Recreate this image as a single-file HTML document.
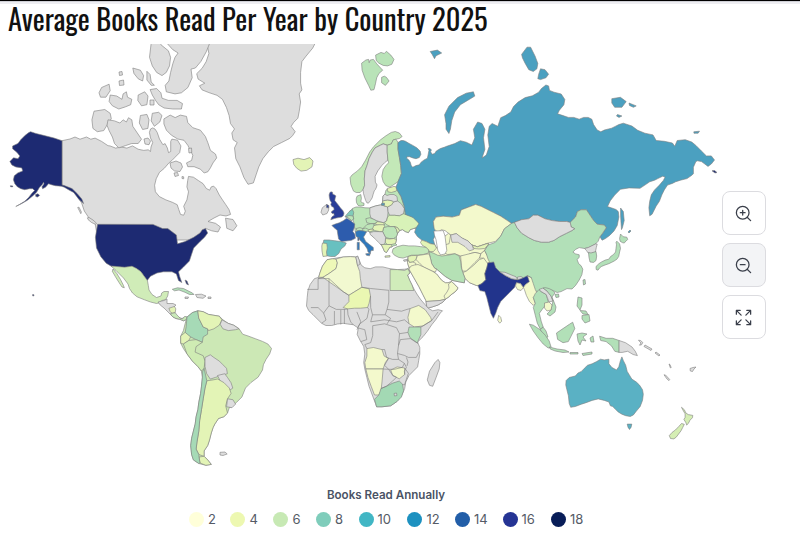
<!DOCTYPE html>
<html><head><meta charset="utf-8">
<style>
html,body{margin:0;padding:0;background:#fff;}
body{width:800px;height:556px;overflow:hidden;position:relative;font-family:"Inter","Liberation Sans",sans-serif;}
.topline{position:absolute;left:0;top:0;width:800px;height:1px;background:#000;}
.topline2{position:absolute;left:0;top:1px;width:800px;height:1px;background:#cfd0d6;}
.topline3{position:absolute;left:0;top:2px;width:800px;height:2px;background:#eeeef2;}
svg.title{position:absolute;left:0;top:0;}
svg.map{position:absolute;left:0;top:0;}
svg.map path{stroke:#7d7d7d;stroke-width:0.6;stroke-linejoin:round;}
.btn{position:absolute;left:722px;width:42px;height:42px;border:1px solid #dcdce0;border-radius:8px;background:#fff;box-sizing:content-box;}
.btn svg{position:absolute;left:11.2px;top:12px;}
.legend-title{position:absolute;left:0;width:772px;top:488px;text-align:center;font-size:11.6px;font-weight:600;color:#4a5365;}
.dot{position:absolute;top:512px;width:15px;height:15px;border-radius:50%;}
.lt{position:absolute;top:511px;font-size:13px;color:#555b66;line-height:17px;}
</style></head>
<body>
<div class="topline"></div><div class="topline2"></div><div class="topline3"></div>
<svg class="map" width="800" height="556" viewBox="0 0 800 556">
<clipPath id="mc"><rect x="0" y="44" width="720" height="430"/></clipPath>
<g clip-path="url(#mc)">
<path d="M209.5 40.0 L316.8 40.0 L312.7 48.1 L306.0 56.2 L301.9 61.6 L300.6 72.4 L300.6 83.2 L301.9 89.9 L299.2 93.9 L300.6 102.0 L299.2 111.5 L297.9 118.2 L293.8 122.3 L291.1 126.3 L295.2 131.7 L292.5 135.7 L289.8 138.4 L281.7 142.5 L273.6 146.5 L268.2 151.9 L262.8 158.7 L258.8 166.8 L256.1 174.8 L253.4 182.9 L248.0 184.3 L243.9 177.5 L239.9 166.8 L235.8 158.7 L234.5 147.9 L237.2 142.5 L233.1 139.8 L231.8 133.0 L234.5 129.0 L230.5 123.6 L229.1 115.5 L226.4 107.4 L222.4 99.3 L217.0 95.3 L208.9 92.6 L202.1 89.9 L199.4 85.8 L204.8 83.2 L198.1 79.1 L196.7 73.7 L202.1 68.3 L206.2 61.6 L208.9 53.5 L207.5 46.7Z" fill="#dddddd"/>
<path d="M293.0 159.6 L298.0 158.2 L304.0 159.6 L309.7 157.6 L313.0 161.0 L312.0 166.8 L306.8 170.3 L301.0 171.1 L296.7 168.2 L293.8 164.5Z" fill="#e3f4b6"/>
<path d="M62.0 140.7 L70.0 139.0 L75.0 137.0 L80.0 139.2 L86.5 137.0 L90.8 139.2 L95.1 138.1 L101.6 141.4 L108.0 145.7 L110.0 145.9 L115.6 148.1 L121.2 147.0 L126.9 148.1 L132.5 145.9 L138.1 149.2 L143.7 150.4 L148.2 149.8 L150.5 151.5 L151.0 147.0 L152.7 142.5 L150.5 138.0 L149.4 132.4 L150.5 129.0 L152.7 127.9 L155.0 129.0 L157.2 132.4 L159.5 139.1 L162.9 144.7 L165.1 143.6 L167.4 148.1 L168.5 152.6 L170.7 151.5 L170.7 141.4 L171.9 139.1 L177.5 140.2 L180.9 145.9 L179.7 152.6 L175.2 157.1 L171.9 160.5 L169.1 162.7 L164.3 168.3 L159.4 172.4 L156.2 178.8 L154.6 185.3 L155.4 191.8 L159.4 196.6 L165.9 199.9 L172.4 202.3 L177.2 204.7 L178.8 209.6 L180.5 214.4 L183.7 215.2 L185.3 211.2 L183.7 206.3 L186.9 199.9 L188.5 191.8 L186.9 186.9 L187.7 180.5 L188.5 176.4 L193.4 177.2 L198.3 180.5 L203.1 183.7 L206.3 188.5 L209.6 190.2 L211.2 186.9 L213.6 186.1 L216.0 188.5 L219.3 195.0 L222.5 199.9 L225.8 204.7 L229.0 209.6 L230.6 214.4 L226.0 216.0 L220.0 215.0 L214.0 218.0 L208.0 221.5 L215.5 223.3 L220.5 227.0 L218.0 232.0 L211.7 230.8 L205.4 228.3 L203.0 232.0 L200.0 240.0 L98.0 240.0 L95.0 223.0 L89.7 219.0 L84.3 211.0 L81.6 202.9 L76.2 194.8 L70.8 189.4 L66.0 187.0 L62.0 184.7Z" fill="#dddddd"/>
<path d="M163.9 118.9 L170.2 115.1 L175.2 117.6 L180.3 115.1 L186.5 116.4 L187.8 122.6 L192.8 127.7 L200.4 130.2 L205.4 136.5 L207.9 142.8 L210.4 150.3 L215.5 154.1 L216.7 157.9 L213.0 162.9 L210.4 167.9 L207.9 171.7 L204.2 173.0 L200.4 169.2 L194.1 166.7 L187.8 166.7 L186.5 162.9 L191.6 160.4 L192.8 155.3 L190.3 150.3 L187.8 145.3 L184.0 140.3 L177.7 139.0 L171.4 135.2 L166.4 130.2 L163.9 123.9Z" fill="#dddddd"/>
<path d="M170.0 163.0 L176.0 161.0 L181.0 163.0 L182.5 167.0 L180.0 171.5 L174.5 171.0 L171.0 168.0Z" fill="#dddddd"/>
<path d="M174.0 173.0 L177.5 172.5 L178.5 175.5 L175.0 176.5Z" fill="#dddddd"/>
<path d="M182.0 176.5 L183.7 176.8 L183.7 178.8 L182.0 178.5Z" fill="#dddddd"/>
<path d="M144.0 139.0 L148.0 138.0 L150.5 141.0 L149.0 144.7 L145.0 144.0Z" fill="#dddddd"/>
<path d="M188.5 148.5 L191.5 148.0 L191.8 152.5 L189.0 153.0Z" fill="#dddddd"/>
<path d="M77.7 207.5 L79.0 207.2 L81.4 212.0 L80.8 213.7 L79.5 211.0Z" fill="#dddddd"/>
<path d="M87.4 217.8 L89.0 217.5 L93.0 220.0 L96.5 223.2 L95.5 224.3 L91.5 222.5 L88.0 219.5Z" fill="#dddddd"/>
<path d="M225.5 218.2 L233.0 219.5 L236.9 225.8 L233.0 230.8 L226.8 228.3Z" fill="#dddddd"/>
<path d="M151.0 44.5 L152.0 40.0 L160.0 40.0 L160.9 44.7 L168.4 50.8 L170.6 57.3 L169.5 65.9 L166.3 72.4 L162.0 75.6 L156.6 72.4 L152.3 65.9 L149.5 57.3Z" fill="#dddddd"/>
<path d="M164.0 40.0 L211.0 40.0 L206.2 51.9 L200.8 61.6 L195.4 68.0 L191.0 69.1 L192.2 77.7 L187.9 87.5 L181.4 92.8 L175.0 93.9 L166.3 91.8 L165.2 85.3 L168.9 81.0 L170.6 72.4 L172.8 63.7 L175.0 57.3 L178.1 53.0 L172.8 49.7Z" fill="#dddddd"/>
<path d="M150.1 89.6 L156.6 88.5 L160.9 92.8 L162.0 98.2 L168.4 100.4 L177.1 100.4 L182.5 103.6 L181.4 109.0 L172.8 109.0 L164.1 108.0 L158.7 104.7 L155.5 100.4 L152.3 95.0Z" fill="#dddddd"/>
<path d="M138.2 95.0 L144.7 91.8 L148.0 96.0 L146.9 104.7 L141.5 105.8 L137.8 100.4Z" fill="#dddddd"/>
<path d="M132.8 68.0 L140.4 70.2 L143.6 75.6 L142.6 81.0 L138.2 78.8 L133.9 73.4Z" fill="#dddddd"/>
<path d="M146.9 71.3 L150.1 74.5 L151.2 82.0 L154.4 85.3 L151.2 85.3 L146.9 80.0Z" fill="#dddddd"/>
<path d="M101.6 87.5 L109.1 84.2 L110.2 90.7 L105.9 97.2 L100.5 97.2 L99.0 92.8Z" fill="#dddddd"/>
<path d="M110.2 95.0 L116.7 96.0 L122.0 99.3 L123.1 93.9 L126.4 91.8 L127.5 97.2 L131.8 99.3 L130.7 104.7 L125.3 106.9 L118.8 109.0 L112.4 105.8 L109.1 101.5Z" fill="#dddddd"/>
<path d="M94.0 111.2 L104.8 109.5 L110.2 113.3 L111.3 118.7 L107.0 125.2 L103.7 130.6 L97.3 131.7 L92.9 128.4 L91.9 119.8Z" fill="#dddddd"/>
<path d="M108.0 119.8 L114.5 120.9 L119.9 123.0 L123.1 119.8 L126.4 122.0 L128.5 117.7 L131.8 119.8 L132.8 126.3 L137.2 132.8 L141.5 139.2 L138.2 143.5 L131.8 143.5 L125.3 145.7 L118.8 147.9 L114.5 143.5 L112.4 137.0 L109.1 130.6 L107.0 125.2Z" fill="#dddddd"/>
<path d="M140.4 115.5 L146.9 114.4 L149.0 119.8 L147.9 128.4 L142.6 129.5 L139.3 123.0Z" fill="#dddddd"/>
<path d="M152.3 113.3 L158.7 112.3 L162.0 115.5 L159.8 122.0 L154.4 126.3 L151.2 120.9Z" fill="#dddddd"/>
<path d="M150.0 100.0 L154.0 100.0 L154.0 105.0 L150.0 105.0Z" fill="#dddddd"/>
<path d="M119.0 81.0 L123.5 80.0 L124.0 85.0 L119.5 85.5Z" fill="#dddddd"/>
<path d="M119.0 72.0 L122.0 71.5 L122.5 75.0 L119.5 75.5Z" fill="#dddddd"/>
<path d="M30.6 131.7 L36.0 133.5 L43.2 135.3 L54.0 138.0 L62.0 140.7 L62.0 184.9 L64.3 185.6 L67.5 186.8 L72.0 188.6 L77.3 193.7 L81.8 199.0 L83.6 203.6 L79.0 199.5 L73.7 192.5 L69.0 190.0 L64.3 187.2 L61.3 186.2 L55.4 185.7 L51.4 184.7 L48.5 183.7 L45.5 187.2 L42.5 188.7 L42.0 186.7 L44.0 183.9 L43.5 182.3 L42.5 184.2 L39.6 187.2 L36.6 192.2 L32.6 196.1 L27.7 200.1 L22.7 203.0 L16.8 206.0 L15.8 206.5 L19.8 204.3 L24.7 201.3 L28.7 197.4 L31.7 193.4 L34.6 190.5 L32.6 188.7 L29.7 188.7 L24.7 189.7 L20.8 188.7 L17.3 186.7 L14.8 183.7 L13.4 179.8 L14.3 175.8 L17.8 172.9 L22.7 170.9 L21.8 167.9 L15.8 166.9 L11.9 165.0 L9.9 161.5 L13.5 157.8 L18.0 158.7 L19.8 156.0 L17.0 152.4 L12.6 148.8 L12.6 146.0 L18.0 143.4 L20.7 139.8 L25.2 135.3 L28.8 132.6Z" fill="#1d2a72"/>
<path d="M35.6 194.5 L38.0 193.8 L39.6 195.5 L37.5 197.0 L35.8 196.5Z" fill="#1d2a72"/>
<path d="M10.4 185.7 L12.9 186.0 L12.5 186.9 L10.5 186.7Z" fill="#1d2a72"/>
<path d="M97.6 224.3 L153.0 224.4 L162.5 228.5 L167.8 228.6 L176.4 235.0 L177.5 243.8 L185.0 241.6 L193.7 237.3 L200.0 233.0 L202.3 229.7 L205.5 228.6 L207.7 233.0 L204.5 237.3 L200.0 241.6 L193.7 248.0 L191.5 254.6 L189.4 261.0 L183.0 267.5 L178.5 271.8 L179.6 276.2 L181.8 282.6 L178.5 280.5 L176.4 274.0 L172.0 271.8 L163.4 271.8 L157.0 273.0 L150.5 276.2 L147.2 280.5 L144.0 276.2 L140.8 271.8 L136.4 268.6 L132.0 266.4 L124.6 267.5 L111.6 266.4 L106.2 263.2 L100.8 256.7 L96.5 248.0 L95.4 237.3Z" fill="#1d2a72"/>
<path d="M111.0 266.0 L124.6 267.2 L132.0 266.2 L136.4 268.4 L140.8 271.6 L144.0 276.0 L147.2 280.3 L147.5 281.0 L148.3 285.5 L149.0 290.0 L152.0 294.5 L156.5 297.5 L161.0 296.0 L161.7 293.0 L164.0 291.5 L168.5 291.5 L167.7 296.0 L165.5 299.8 L161.7 300.5 L159.5 302.8 L156.5 303.5 L150.5 302.0 L144.5 299.8 L137.0 296.8 L132.5 293.0 L129.5 288.5 L128.0 284.0 L123.5 278.0 L119.0 273.5 L116.0 270.5Z" fill="#d0ecb8"/>
<path d="M113.0 269.0 L116.8 273.5 L120.5 279.5 L123.5 285.5 L124.3 287.8 L122.0 287.0 L119.0 282.5 L115.3 276.5 L112.3 271.3Z" fill="#d0ecb8"/>
<path d="M158.0 302.0 L164.0 300.5 L167.0 299.0 L167.0 303.5 L173.0 303.5 L176.0 305.0 L173.0 308.0 L171.5 312.5 L173.0 315.5 L177.5 317.0 L182.0 318.5 L185.0 317.0 L186.5 319.3 L183.5 320.8 L179.8 319.3 L176.0 318.5 L173.0 317.0 L170.0 314.0 L167.0 311.0 L164.0 308.0 L160.2 305.0Z" fill="#dddddd"/>
<path d="M168.9 308.3 L174.5 306.4 L175.8 308.9 L175.2 312.7 L172.0 313.3 L170.1 311.4Z" fill="#e3f4b6"/>
<path d="M170.7 313.3 L172.0 313.3 L175.2 312.7 L177.0 315.0 L180.2 318.2 L182.7 318.8 L184.6 316.5 L186.5 316.5 L187.5 318.5 L186.5 319.5 L183.5 320.8 L179.8 319.3 L176.0 318.5 L173.0 317.0 L171.0 315.0Z" fill="#c9e9b8"/>
<path d="M172.3 289.3 L177.5 287.8 L183.5 288.5 L188.0 290.8 L192.5 293.0 L194.0 294.5 L189.5 294.5 L185.0 292.3 L179.0 290.0 L174.5 290.8Z" fill="#b2e0b8"/>
<path d="M195.5 294.5 L201.5 294.2 L206.0 296.0 L203.0 298.3 L197.0 297.5Z" fill="#dddddd"/>
<path d="M185.0 297.0 L188.5 297.0 L188.0 298.5 L185.0 298.5Z" fill="#dddddd"/>
<path d="M208.0 297.0 L211.0 297.0 L211.0 298.5 L208.0 298.5Z" fill="#dddddd"/>
<path d="M185.0 280.0 L187.0 281.0 L188.5 285.0 L186.5 284.0Z" fill="#1d2a72"/>
<path d="M32.6 294.6 L34.0 294.8 L33.8 296.0 L32.6 295.8Z" fill="#1d2a72"/>
<path d="M187.0 317.1 L192.4 312.6 L197.8 310.8 L203.2 311.7 L208.5 314.4 L213.9 315.3 L219.3 316.2 L222.9 319.8 L228.3 323.4 L233.7 325.2 L239.1 328.8 L242.7 334.2 L248.1 336.0 L255.3 338.7 L262.5 341.4 L267.9 344.0 L271.5 348.5 L269.7 353.9 L266.1 359.3 L263.4 364.7 L262.5 370.0 L258.1 377.2 L250.9 382.6 L245.5 388.0 L241.9 397.0 L236.5 402.4 L232.9 405.9 L229.3 407.7 L227.5 413.1 L223.9 416.7 L218.5 418.5 L214.9 423.9 L213.1 427.5 L211.3 432.9 L209.5 440.1 L207.7 445.5 L204.1 450.9 L204.1 456.3 L207.7 459.9 L211.3 464.4 L205.9 465.3 L198.8 463.5 L193.4 459.9 L191.6 454.5 L190.7 445.5 L191.6 438.3 L193.4 431.1 L195.2 423.9 L196.1 416.7 L197.9 409.5 L198.8 402.4 L200.6 393.4 L201.5 386.2 L202.4 377.2 L201.4 371.0 L197.8 366.5 L192.4 361.1 L187.0 353.9 L183.4 348.5 L180.7 343.2 L180.7 336.0 L183.4 330.6 L185.2 323.4Z" fill="#cce8b5"/>
<path d="M187.0 317.1 L192.4 312.6 L197.8 310.8 L198.7 318.0 L203.2 327.0 L207.6 328.8 L207.6 334.2 L203.2 336.9 L202.3 342.3 L196.0 339.6 L190.6 336.9 L187.0 335.1 L185.2 332.4 L186.1 327.0Z" fill="#a6dab6"/>
<path d="M197.8 310.8 L203.2 311.7 L208.5 314.4 L213.9 315.3 L219.3 316.2 L222.0 319.8 L219.3 325.2 L213.9 328.8 L208.5 330.6 L207.6 328.8 L203.2 327.0 L198.7 318.0Z" fill="#e3f4b6"/>
<path d="M222.0 319.8 L228.3 323.4 L233.7 325.2 L239.1 328.8 L235.5 329.7 L228.3 330.6 L222.9 328.8 L220.2 324.3Z" fill="#dddddd"/>
<path d="M180.7 336.0 L185.2 332.4 L190.6 336.9 L188.8 340.5 L183.4 344.0 L180.7 343.2Z" fill="#e3f4b6"/>
<path d="M183.4 344.0 L188.8 340.5 L196.0 339.6 L202.3 342.3 L196.0 346.7 L195.1 352.1 L203.2 355.7 L205.0 361.1 L204.1 368.3 L201.4 371.0 L197.8 366.5 L192.4 361.1 L187.0 353.9Z" fill="#cfecb3"/>
<path d="M205.0 357.5 L210.3 354.8 L213.9 357.5 L219.3 361.1 L222.9 364.7 L226.5 368.3 L227.4 373.7 L221.1 375.5 L215.7 377.3 L210.3 379.1 L206.7 373.7 L205.0 366.5Z" fill="#dddddd"/>
<path d="M217.5 375.5 L224.7 373.7 L227.4 377.3 L231.0 382.7 L232.8 388.1 L230.1 389.9 L226.5 388.1 L221.1 382.7Z" fill="#dddddd"/>
<path d="M206.8 380.8 L213.1 379.9 L217.6 379.0 L223.9 382.6 L229.3 388.0 L231.1 393.4 L227.5 398.8 L225.7 405.9 L227.5 413.1 L223.9 416.7 L218.5 418.5 L214.9 423.9 L213.1 427.5 L211.3 432.9 L209.5 440.1 L207.7 445.5 L204.1 450.9 L204.1 456.3 L198.8 454.5 L196.1 449.1 L197.0 441.9 L198.8 431.1 L199.7 420.3 L201.5 409.5 L203.2 398.8 L205.0 388.0Z" fill="#e3f4b6"/>
<path d="M199.0 457.0 L204.1 456.3 L207.7 459.9 L211.3 464.4 L205.9 465.3 L200.0 463.0Z" fill="#e3f4b6"/>
<path d="M202.4 372.0 L204.1 368.3 L206.8 380.8 L205.0 388.0 L203.2 398.8 L201.5 409.5 L199.7 420.3 L198.8 431.1 L197.0 441.9 L196.1 449.1 L198.8 454.5 L199.0 457.0 L200.0 463.0 L198.8 463.5 L193.4 459.9 L191.6 454.5 L190.7 445.5 L191.6 438.3 L193.4 431.1 L195.2 423.9 L196.1 416.7 L197.9 409.5 L198.8 402.4 L200.6 393.4 L201.5 386.2 L202.4 377.2Z" fill="#a6dab6"/>
<path d="M227.5 398.8 L232.9 399.7 L235.6 404.1 L232.0 407.7 L226.6 406.8Z" fill="#dddddd"/>
<path d="M220.0 452.3 L225.0 452.0 L227.2 454.0 L223.0 455.5 L220.0 455.0Z" fill="#dddddd"/>
<path d="M352.3 208.5 L356.0 207.0 L360.5 207.0 L365.0 207.8 L369.8 207.9 L375.7 205.9 L380.7 204.9 L382.6 203.9 L382.6 200.9 L383.0 196.0 L385.0 194.0 L386.0 190.0 L390.0 188.0 L395.0 188.0 L396.5 189.0 L401.0 196.5 L404.0 205.5 L405.5 214.5 L413.0 217.5 L419.0 223.5 L417.5 228.0 L413.3 228.6 L410.3 229.6 L408.4 232.6 L405.4 231.6 L402.4 229.6 L399.5 230.6 L397.5 233.6 L396.5 236.5 L396.5 239.5 L395.5 243.5 L397.0 245.0 L393.0 246.0 L392.0 247.0 L390.0 247.0 L388.0 250.0 L386.5 252.5 L384.5 251.5 L383.0 248.0 L381.5 245.0 L380.0 243.0 L377.5 240.0 L375.5 238.0 L372.7 236.5 L369.8 232.6 L368.0 231.0 L366.5 231.8 L363.5 231.0 L359.0 230.3 L355.3 231.8 L354.5 226.5 L353.7 222.0 L352.3 217.5 L353.0 213.0 L349.3 211.5 L352.3 209.3Z" fill="#bde5b8"/>
<path d="M365.8 218.7 L369.8 217.7 L373.7 219.2 L376.7 220.7 L377.7 222.2 L374.7 223.7 L370.8 223.7 L366.8 222.7Z" fill="#bde5b8"/>
<path d="M366.8 224.7 L370.8 223.7 L374.7 223.7 L373.7 224.7 L374.7 226.6 L372.7 229.1 L368.8 229.6 L365.8 228.1 L362.9 228.6Z" fill="#bde5b8"/>
<path d="M355.9 228.6 L359.9 227.6 L362.9 228.6 L362.9 229.1 L361.9 231.1 L357.9 231.6Z" fill="#bde5b8"/>
<path d="M368.8 229.6 L372.7 229.1 L373.5 230.5 L370.0 231.8 L368.0 231.0Z" fill="#e3f4b6"/>
<path d="M369.8 207.9 L375.7 205.9 L380.7 204.9 L387.6 206.9 L388.1 211.8 L387.6 216.8 L386.6 220.7 L383.6 222.7 L379.7 221.7 L376.7 220.7 L373.7 219.2 L370.8 217.7 L369.8 213.8Z" fill="#dddddd"/>
<path d="M387.6 206.9 L391.5 204.9 L393.5 201.9 L397.5 200.9 L401.4 203.9 L404.4 208.8 L403.4 213.8 L399.5 215.8 L394.5 215.3 L389.6 215.3 L388.1 211.8Z" fill="#dddddd"/>
<path d="M382.6 200.9 L387.6 199.9 L392.5 200.9 L393.5 201.9 L391.5 204.9 L387.6 206.9 L384.1 205.9 L382.6 203.9Z" fill="#e3f4b6"/>
<path d="M383.0 196.0 L385.0 194.0 L387.0 195.5 L390.0 194.5 L394.0 194.5 L397.0 196.5 L397.5 200.9 L393.5 201.9 L392.5 200.9 L387.6 199.9 L382.6 200.9Z" fill="#dddddd"/>
<path d="M387.2 188.4 L394.0 186.4 L396.7 187.1 L397.0 190.0 L396.0 191.1 L391.3 192.5 L387.9 191.8Z" fill="#e3f4b6"/>
<path d="M381.5 203.2 L384.5 203.2 L384.5 205.2 L381.5 205.2Z" fill="#4ba0c0"/>
<path d="M387.6 216.8 L389.6 215.3 L394.5 215.3 L399.5 215.8 L403.4 213.8 L407.4 214.8 L411.3 215.8 L415.3 218.7 L418.2 221.7 L419.2 224.7 L416.3 227.6 L413.3 228.6 L410.3 229.6 L408.4 232.6 L405.4 231.6 L402.4 229.6 L399.5 230.6 L397.5 227.6 L394.5 226.6 L390.6 226.6 L386.6 224.7 L384.6 222.7 L386.6 220.7Z" fill="#d8f2b8"/>
<path d="M383.6 227.6 L387.6 226.6 L394.5 226.6 L396.5 229.6 L397.5 233.6 L396.5 236.5 L393.5 238.5 L389.6 238.5 L385.6 237.5 L384.1 234.6 L382.6 231.6Z" fill="#bde5b8"/>
<path d="M394.5 226.6 L397.5 227.6 L399.5 230.6 L397.5 233.6 L396.5 229.6Z" fill="#e3f4b6"/>
<path d="M385.6 238.5 L389.6 239.0 L393.5 238.5 L396.5 239.5 L395.5 243.5 L391.5 244.5 L387.6 244.5 L385.1 242.5Z" fill="#e3f4b6"/>
<path d="M369.8 232.6 L373.7 231.6 L379.7 231.6 L382.6 231.6 L384.1 234.6 L385.6 237.5 L385.1 242.5 L383.6 244.5 L380.7 244.5 L378.7 242.5 L375.7 239.5 L372.7 236.5 L370.3 234.6Z" fill="#dddddd"/>
<path d="M373.7 225.7 L377.7 224.7 L383.6 223.7 L384.6 226.6 L383.6 227.6 L382.6 231.6 L379.7 231.6 L374.7 230.6 L372.7 228.6Z" fill="#e3f4b6"/>
<path d="M377.7 221.7 L383.6 222.7 L384.6 224.7 L377.7 224.7 L374.7 223.7Z" fill="#e3f4b6"/>
<path d="M380.5 244.5 L385.0 244.5 L391.5 244.5 L392.0 247.0 L390.0 247.0 L388.0 250.0 L386.5 252.5 L384.5 251.5 L383.0 248.0 L381.5 245.0Z" fill="#e3f4b6"/>
<path d="M385.0 256.0 L390.0 255.5 L390.0 257.0 L385.0 257.3Z" fill="#e3f4b6"/>
<path d="M346.7 218.2 L350.7 220.7 L354.8 224.1 L354.1 228.1 L352.8 231.5 L354.8 234.2 L355.4 238.3 L351.4 240.3 L346.0 241.0 L341.3 241.6 L338.6 238.9 L337.9 234.9 L337.2 230.2 L333.9 227.5 L331.9 225.4 L335.2 224.1 L339.3 222.8 L343.3 220.7Z" fill="#2d5cad"/>
<path d="M345.0 216.5 L349.3 211.5 L352.3 209.3 L353.7 212.3 L353.0 216.0 L353.7 219.0 L351.5 220.5 L347.7 217.5Z" fill="#7fcbb9"/>
<path d="M345.5 217.0 L349.0 215.5 L353.0 216.0 L353.7 219.0 L351.5 220.5 L347.7 217.5Z" fill="#bde5b8"/>
<path d="M323.8 240.0 L329.0 240.0 L335.0 240.8 L341.0 241.5 L346.3 243.0 L344.8 246.0 L341.0 249.0 L338.8 253.5 L335.0 256.5 L330.5 256.5 L326.8 255.8 L325.3 252.0 L326.0 246.0 L323.0 244.5Z" fill="#68c0c0"/>
<path d="M322.5 243.0 L326.8 243.5 L327.3 248.0 L326.5 252.0 L327.0 256.0 L323.0 256.5 L322.0 251.0 L321.8 246.0Z" fill="#e3f4b6"/>
<path d="M355.3 231.8 L359.0 230.3 L363.5 231.0 L366.5 231.8 L365.0 234.8 L363.5 237.0 L365.7 241.5 L369.5 244.5 L373.3 247.5 L373.3 250.5 L371.0 250.5 L370.3 253.5 L368.0 252.0 L367.3 249.0 L364.3 244.5 L360.5 240.8 L358.3 237.8 L356.0 236.3Z" fill="#2f78bc"/>
<path d="M365.7 253.8 L370.3 253.2 L369.5 255.8 L366.5 255.3Z" fill="#2f78bc"/>
<path d="M357.2 242.3 L359.3 242.3 L359.3 249.8 L357.2 249.8Z" fill="#2f78bc"/>
<path d="M357.8 237.5 L359.0 237.5 L359.0 240.5 L357.8 240.5Z" fill="#2d5cad"/>
<path d="M329.8 192.8 L330.8 191.8 L332.5 192.2 L332.8 194.2 L334.6 194.9 L335.9 195.9 L335.2 198.0 L334.8 200.4 L336.3 202.4 L338.5 205.2 L340.5 207.9 L342.8 210.5 L344.0 213.0 L343.5 215.5 L341.8 217.0 L338.5 217.6 L336.3 218.0 L334.2 218.6 L332.2 219.3 L330.8 219.8 L331.5 217.5 L332.8 216.1 L334.2 215.5 L333.9 213.4 L332.2 213.4 L331.1 212.0 L332.8 210.7 L334.2 209.3 L333.5 207.2 L331.8 206.5 L330.8 204.5 L331.5 202.4 L330.1 200.4 L329.4 197.6 L329.1 194.9Z" fill="#293d98"/>
<path d="M322.3 207.8 L326.5 204.5 L328.7 205.5 L328.7 210.0 L327.0 213.5 L322.8 215.0 L321.0 212.3Z" fill="#dddddd"/>
<path d="M326.5 204.5 L328.7 205.5 L328.7 208.0 L326.5 207.6Z" fill="#293d98"/>
<path d="M357.0 196.2 L360.8 194.6 L361.4 198.4 L360.8 201.6 L362.4 202.7 L364.0 203.2 L364.0 205.4 L360.8 206.0 L358.1 205.4 L356.5 202.7 L356.2 198.9Z" fill="#bde5b8"/>
<path d="M353.5 191.1 L350.8 184.4 L350.1 177.6 L352.1 174.9 L357.5 170.9 L361.6 166.8 L365.6 160.1 L369.7 152.0 L373.7 146.6 L380.5 139.8 L385.9 135.8 L391.3 132.4 L395.3 131.5 L399.4 133.1 L402.1 136.5 L399.4 138.5 L396.0 139.2 L393.3 139.8 L391.3 143.9 L387.2 145.2 L383.2 143.9 L380.5 145.2 L375.1 147.9 L372.4 152.0 L369.0 158.7 L367.0 165.5 L365.0 170.9 L364.3 179.0 L365.0 184.4 L362.9 189.8 L360.2 192.5 L356.2 192.5Z" fill="#c3e8b8"/>
<path d="M375.1 147.9 L380.5 145.2 L383.2 143.9 L387.2 145.2 L387.2 152.0 L387.9 160.1 L384.5 162.8 L381.8 165.5 L377.8 170.9 L375.1 176.3 L375.4 182.2 L377.0 184.9 L376.5 187.0 L375.4 189.5 L374.3 190.8 L373.2 194.1 L372.2 197.8 L370.5 200.5 L368.4 203.2 L366.8 202.7 L365.7 200.5 L364.6 197.3 L363.5 193.5 L363.0 189.7 L364.6 185.4 L364.3 179.0 L365.0 170.9 L367.0 165.5 L369.0 158.7 L372.4 152.0Z" fill="#dddddd"/>
<path d="M387.2 145.2 L391.3 143.9 L393.3 139.8 L396.0 139.2 L398.0 142.5 L398.0 149.3 L399.4 157.4 L400.7 165.5 L401.4 173.6 L398.0 181.7 L394.0 184.4 L389.9 187.1 L385.9 185.7 L383.2 181.7 L381.8 176.3 L383.2 169.5 L385.9 165.5 L388.6 162.8 L387.9 160.1 L387.2 152.0Z" fill="#c3e8b8"/>
<path d="M361.6 63.2 L365.9 60.0 L368.6 59.4 L369.2 62.7 L370.2 60.0 L373.5 59.4 L376.7 63.8 L382.7 70.2 L378.9 73.5 L376.7 77.8 L375.6 83.2 L374.0 89.7 L370.8 90.2 L368.6 85.4 L364.8 77.8 L362.1 70.2Z" fill="#b9e3b8"/>
<path d="M375.6 55.1 L381.0 52.4 L384.3 53.5 L386.4 51.3 L390.8 55.1 L394.0 59.4 L391.8 64.3 L387.5 65.9 L383.2 65.4 L378.9 63.2 L376.2 60.5Z" fill="#b9e3b8"/>
<path d="M381.6 77.3 L384.3 76.2 L386.4 77.3 L389.1 81.0 L385.4 85.4 L381.6 82.7Z" fill="#b9e3b8"/>
<path d="M398.0 142.5 L401.0 140.5 L403.1 140.5 L405.5 141.3 L408.8 143.3 L412.8 145.4 L416.8 147.8 L420.1 151.0 L420.9 154.3 L419.3 157.5 L416.0 158.7 L412.8 157.9 L409.6 156.7 L407.1 156.7 L406.7 158.3 L408.8 159.9 L410.4 162.4 L411.2 165.6 L412.8 167.2 L416.0 165.6 L419.3 164.8 L420.9 162.4 L424.1 159.9 L427.4 158.3 L428.2 154.3 L429.0 150.2 L428.2 148.6 L429.8 148.6 L431.4 149.8 L430.6 151.8 L432.2 154.3 L434.6 153.5 L436.3 151.0 L440.3 148.6 L445.0 147.0 L446.0 146.5 L454.7 143.6 L460.4 140.7 L466.2 142.2 L471.9 145.0 L474.8 137.8 L473.4 129.2 L477.7 122.0 L482.0 123.5 L484.9 129.2 L483.5 137.8 L484.9 149.4 L482.0 158.0 L486.3 155.1 L489.2 146.5 L487.8 135.0 L489.2 126.3 L492.1 123.5 L497.8 126.3 L500.7 117.7 L505.4 115.6 L510.8 112.0 L513.5 106.6 L518.0 102.1 L525.2 97.6 L532.4 95.8 L538.7 92.2 L541.4 88.6 L545.9 85.0 L548.6 85.9 L549.5 90.4 L554.0 92.2 L561.2 94.0 L564.8 99.4 L563.9 104.8 L559.4 110.2 L557.6 113.8 L563.0 115.6 L568.4 117.4 L573.8 117.4 L579.2 119.2 L583.7 117.4 L588.2 117.4 L591.8 119.2 L593.6 124.6 L597.2 130.0 L600.8 131.8 L604.4 130.0 L611.6 128.2 L615.2 126.4 L618.8 124.6 L623.3 123.2 L631.9 126.0 L637.7 130.3 L644.9 133.2 L653.0 134.9 L656.2 140.5 L664.3 141.3 L672.4 143.0 L674.8 146.2 L677.2 140.5 L685.3 139.7 L691.8 142.1 L695.9 145.4 L701.5 151.1 L706.4 155.9 L711.3 155.9 L714.5 160.0 L711.3 164.0 L708.0 166.4 L704.8 164.0 L701.5 161.6 L697.5 160.8 L695.9 161.6 L693.4 167.2 L693.4 173.7 L691.8 175.3 L687.0 178.6 L680.5 180.2 L675.6 181.8 L672.4 183.4 L667.5 185.1 L664.3 189.9 L661.9 194.8 L659.4 201.3 L656.2 206.1 L652.1 214.2 L649.7 215.8 L648.9 207.7 L649.7 201.3 L651.3 194.8 L654.6 189.9 L659.4 185.1 L663.5 180.2 L665.1 177.0 L662.7 176.2 L657.8 178.6 L654.6 180.2 L649.7 181.8 L644.9 185.1 L640.0 188.3 L629.0 187.9 L620.4 189.3 L614.7 195.1 L610.3 200.8 L607.5 206.6 L611.8 208.0 L616.0 209.5 L618.3 211.6 L618.9 217.0 L617.2 225.6 L614.0 231.0 L609.7 235.4 L605.4 238.6 L602.1 240.2 L599.9 236.8 L602.6 233.2 L606.2 227.8 L604.4 225.1 L597.2 224.2 L593.6 220.6 L590.0 215.2 L586.4 209.8 L581.0 209.8 L577.4 211.6 L575.6 217.0 L570.2 222.4 L566.6 221.5 L559.4 221.5 L552.2 220.6 L545.0 218.8 L537.8 215.2 L533.3 215.2 L528.8 218.8 L521.6 219.7 L514.4 222.4 L511.6 223.4 L506.2 219.8 L500.8 216.2 L493.6 212.6 L486.4 209.0 L481.0 206.3 L475.6 204.5 L468.4 207.2 L461.2 209.9 L459.4 215.3 L452.2 217.1 L443.2 216.2 L436.0 217.1 L433.3 221.6 L434.7 229.3 L436.2 233.6 L433.3 239.4 L434.7 244.4 L430.4 243.7 L426.1 241.6 L421.8 240.1 L417.4 236.5 L414.6 232.2 L416.0 227.9 L419.0 223.5 L413.0 217.5 L405.5 214.5 L404.0 205.5 L401.0 196.5 L396.5 189.0 L396.0 187.0 L398.0 181.7 L401.4 173.6 L400.7 165.5 L399.4 157.4 L398.0 149.3 L398.0 142.5Z" fill="#4ba0c0"/>
<path d="M712.0 170.8 L714.5 170.5 L717.0 172.5 L715.0 173.0Z" fill="#1d2a72"/>
<path d="M446.0 123.5 L444.6 114.8 L448.9 106.2 L457.6 97.6 L466.2 93.2 L473.4 91.8 L474.8 96.1 L467.6 100.4 L460.4 104.7 L454.7 112.0 L451.8 120.6 L450.4 129.2 L448.9 133.5 L446.0 129.2Z" fill="#4ba0c0"/>
<path d="M430.2 51.5 L437.4 50.1 L441.7 53.0 L436.0 55.8 L434.5 58.7 L432.2 54.4Z" fill="#4ba0c0"/>
<path d="M521.6 54.4 L527.0 47.2 L530.6 47.2 L535.1 56.2 L537.8 63.4 L536.9 68.8 L533.3 71.5 L528.8 69.7 L525.2 63.4 L522.5 58.0Z" fill="#4ba0c0"/>
<path d="M540.5 68.8 L545.0 69.7 L548.6 74.2 L545.9 77.8 L540.5 79.6 L537.8 78.7 L538.7 74.2Z" fill="#4ba0c0"/>
<path d="M611.8 98.7 L620.4 97.3 L626.2 101.6 L621.9 107.3 L614.7 107.3 L611.8 103.0Z" fill="#4ba0c0"/>
<path d="M629.0 103.0 L636.2 105.9 L633.4 107.3 L629.5 105.5Z" fill="#4ba0c0"/>
<path d="M617.5 114.5 L621.9 116.0 L619.0 117.4 L616.5 116.0Z" fill="#4ba0c0"/>
<path d="M693.8 131.8 L699.5 131.2 L698.1 133.2 L694.0 133.3Z" fill="#4ba0c0"/>
<path d="M620.6 208.0 L623.3 211.6 L624.2 220.6 L622.4 227.8 L621.5 229.6 L621.0 222.4 L620.6 215.2Z" fill="#4ba0c0"/>
<path d="M628.0 232.0 L630.0 230.0 L631.0 231.0 L629.0 233.0Z" fill="#4ba0c0"/>
<path d="M408.0 256.5 L420.0 252.0 L429.0 250.0 L434.7 244.4 L436.5 248.0 L445.0 236.0 L448.6 233.3 L452.2 236.0 L461.2 237.8 L468.4 241.4 L472.0 245.0 L477.4 246.8 L482.8 245.0 L488.2 243.2 L488.2 245.0 L484.6 250.4 L486.4 254.0 L490.0 259.4 L493.7 261.9 L487.8 262.9 L486.8 267.8 L484.8 273.7 L485.8 279.7 L481.9 283.6 L477.9 285.6 L476.5 285.5 L469.3 282.6 L465.0 278.3 L464.3 282.8 L458.0 281.6 L451.7 280.3 L445.4 276.5 L436.6 269.0 L434.7 268.2 L433.0 271.5 L436.6 274.0 L441.6 280.3 L445.4 282.8 L447.9 282.8 L451.7 281.6 L454.2 284.1 L458.0 287.9 L456.0 291.0 L452.0 294.0 L448.5 297.0 L445.4 299.2 L443.0 302.0 L438.0 305.0 L432.0 307.0 L427.0 308.3 L426.5 305.0 L425.9 300.5 L422.7 294.2 L418.9 286.6 L413.9 277.8 L408.9 269.0 L408.5 266.0 L407.5 262.5 L407.6 259.5Z" fill="#f3f9cc"/>
<path d="M433.3 221.6 L436.0 217.1 L443.2 216.2 L452.2 217.1 L459.4 215.3 L461.2 209.9 L468.4 207.2 L475.6 204.5 L481.0 206.3 L486.4 209.0 L493.6 212.6 L500.8 216.2 L506.2 219.8 L511.6 223.4 L504.4 228.8 L500.8 236.0 L495.4 241.4 L488.2 243.2 L482.8 245.0 L477.4 246.8 L472.0 245.0 L468.4 241.4 L461.2 237.8 L452.2 236.0 L448.6 233.3 L445.0 230.6 L441.4 229.7 L437.8 232.4 L434.2 228.8Z" fill="#f3f9cc"/>
<path d="M443.4 245.2 L449.1 243.7 L450.6 235.1 L456.3 233.6 L461.2 237.8 L468.4 241.4 L472.0 245.0 L477.4 246.8 L482.8 245.0 L488.2 243.2 L488.2 245.0 L484.6 250.4 L480.8 253.8 L475.0 252.4 L469.3 253.8 L466.4 256.7 L460.6 256.0 L454.9 253.8 L447.7 254.5 L443.4 252.4Z" fill="#f3f9cc"/>
<path d="M472.0 245.0 L477.4 246.8 L482.8 245.0 L488.2 243.2 L488.2 245.0 L484.6 248.5 L479.0 249.0 L474.0 248.5Z" fill="#e3f4b6"/>
<path d="M450.6 235.1 L456.3 233.6 L462.1 238.0 L467.8 240.8 L472.2 245.2 L473.6 249.5 L469.3 250.9 L465.0 246.6 L457.8 242.3 L452.0 242.3Z" fill="#dddddd"/>
<path d="M480.8 253.8 L484.6 250.4 L486.4 254.0 L490.0 259.4 L493.7 261.9 L487.8 262.9 L486.0 264.0 L483.7 258.1 L479.4 258.1Z" fill="#f3f9cc"/>
<path d="M460.6 256.0 L469.3 253.8 L475.0 252.4 L480.8 253.8 L479.4 258.1 L475.0 262.4 L470.7 266.8 L466.4 271.1 L462.1 271.1 L461.4 265.3Z" fill="#f3f9cc"/>
<path d="M466.4 271.1 L473.6 265.3 L479.4 259.6 L483.7 258.1 L488.0 263.9 L486.8 267.8 L484.8 273.7 L485.8 279.7 L481.9 283.6 L477.9 285.6 L476.5 285.5 L469.3 282.6 L465.0 278.3 L462.8 272.5Z" fill="#f3f9cc"/>
<path d="M429.0 251.6 L433.3 253.1 L437.6 255.2 L441.9 256.0 L447.7 255.2 L454.9 253.8 L459.2 256.0 L460.6 261.0 L461.4 268.2 L462.8 272.5 L465.0 278.3 L464.3 282.8 L458.0 281.6 L451.7 280.3 L445.4 276.5 L440.0 272.0 L436.6 269.0 L434.7 268.2 L431.8 263.9 L430.4 258.1Z" fill="#b5e1b5"/>
<path d="M433.8 231.0 L443.2 230.6 L445.0 236.0 L445.9 243.2 L446.8 250.4 L445.0 254.0 L440.5 254.9 L437.8 250.4 L436.9 245.0 L436.0 239.6 L434.4 235.1Z" fill="#ffffff"/>
<path d="M393.0 248.8 L397.3 246.6 L403.0 245.2 L408.8 245.9 L414.6 245.9 L420.3 246.6 L426.1 247.3 L429.0 250.2 L428.2 253.1 L423.2 254.5 L417.4 255.2 L411.7 255.2 L407.4 256.7 L403.0 258.1 L398.7 257.4 L394.4 255.2 L392.2 252.4Z" fill="#c5e9bb"/>
<path d="M421.8 240.1 L426.1 241.6 L430.4 243.7 L434.7 244.4 L436.5 248.0 L433.5 251.5 L429.0 251.6 L429.0 250.2 L426.1 247.3 L422.5 245.5 L420.5 242.5Z" fill="#e3f4b6"/>
<path d="M408.0 256.5 L411.7 255.6 L417.4 255.4 L416.0 259.6 L413.0 262.0 L409.5 262.5 L408.2 259.5Z" fill="#e3f4b6"/>
<path d="M417.4 255.6 L429.0 253.8 L430.4 258.1 L431.8 263.9 L434.7 268.2 L436.6 269.0 L435.5 272.0 L433.0 271.5 L429.0 269.6 L423.2 266.8 L418.9 262.4 L416.0 259.6Z" fill="#f3f9cc"/>
<path d="M407.6 259.5 L409.5 262.5 L413.0 262.0 L416.0 263.5 L414.5 268.0 L413.3 270.7 L410.5 269.0 L408.5 266.0 L407.5 262.5Z" fill="#f3f9cc"/>
<path d="M408.9 269.0 L411.0 266.0 L414.5 265.0 L418.0 264.5 L423.2 266.8 L429.0 269.6 L433.0 271.5 L436.6 274.0 L441.6 280.3 L445.4 282.8 L447.9 282.8 L451.7 281.6 L454.2 284.1 L458.0 287.9 L456.0 291.0 L452.0 294.0 L448.5 297.0 L445.4 299.2 L440.0 300.5 L433.0 301.0 L426.0 301.5 L425.9 300.5 L422.7 294.2 L418.9 286.6 L413.9 277.8Z" fill="#f3f9cc"/>
<path d="M426.0 301.5 L433.0 301.0 L440.0 300.5 L445.4 299.2 L443.0 302.0 L438.0 305.0 L432.0 307.0 L427.0 308.3 L426.5 305.0Z" fill="#dddddd"/>
<path d="M451.7 281.6 L454.2 284.1 L458.0 287.9 L456.0 291.0 L452.0 294.0 L448.5 297.0 L445.4 299.2 L444.0 296.0 L447.0 292.0 L449.0 288.0 L448.5 284.0Z" fill="#f3f9cc"/>
<path d="M327.0 259.7 L332.4 258.8 L336.9 257.9 L343.2 257.0 L350.4 256.6 L355.8 257.0 L357.6 256.1 L359.4 260.6 L361.2 265.1 L364.8 267.8 L370.2 268.7 L375.6 266.9 L382.8 266.9 L390.0 268.7 L397.2 269.6 L404.4 269.2 L408.0 268.7 L410.0 273.0 L407.5 275.0 L409.5 280.0 L412.0 285.0 L414.5 290.0 L417.5 295.0 L421.0 300.0 L425.0 304.5 L428.5 308.5 L432.7 310.8 L438.1 309.7 L442.5 310.8 L440.3 313.0 L436.0 319.4 L431.7 324.8 L427.3 331.3 L423.0 336.7 L417.6 342.0 L419.8 347.5 L419.8 354.0 L418.7 360.4 L417.6 366.9 L413.3 371.2 L409.0 375.5 L405.8 382.0 L404.7 388.5 L401.4 396.0 L397.1 401.4 L390.7 405.8 L382.0 406.8 L376.6 406.8 L375.5 403.6 L372.3 395.0 L369.0 386.3 L366.9 377.7 L364.8 369.0 L363.7 362.6 L364.8 354.0 L363.7 346.4 L360.4 341.0 L357.2 334.5 L358.3 328.0 L357.6 327.6 L353.2 324.7 L347.5 324.0 L343.2 323.3 L337.4 324.0 L331.7 325.5 L325.9 325.5 L321.6 323.3 L317.3 319.0 L313.0 314.7 L308.6 310.4 L306.5 306.0 L307.2 297.4 L307.9 290.9 L310.1 284.5 L314.4 278.7 L318.7 277.3 L319.8 273.2 L322.5 266.0Z" fill="#dddddd"/>
<path d="M327.0 259.7 L332.4 258.8 L336.0 259.0 L337.4 262.9 L336.0 268.6 L328.8 273.7 L323.0 277.3 L318.7 277.3 L319.8 273.2 L322.5 266.0Z" fill="#eef8b8"/>
<path d="M323.0 277.3 L328.8 273.7 L336.0 268.6 L337.4 262.9 L336.0 259.0 L343.2 257.0 L350.4 256.6 L355.8 257.0 L357.6 265.8 L359.7 271.5 L360.4 278.7 L361.9 287.3 L354.7 291.7 L348.9 295.3 L343.2 291.7 L336.0 286.6 L328.8 281.6Z" fill="#f2f9d0"/>
<path d="M355.8 257.0 L357.6 256.1 L359.4 260.6 L360.0 264.0 L357.6 265.8Z" fill="#dddddd"/>
<path d="M348.9 295.3 L354.7 291.7 L361.9 287.3 L369.1 288.8 L370.5 296.0 L369.1 303.2 L367.6 307.5 L360.4 308.2 L354.7 308.2 L347.5 308.9 L343.2 307.5 L346.0 304.6 L348.9 301.7Z" fill="#eaf7b2"/>
<path d="M390.1 269.6 L397.3 269.6 L404.5 270.4 L408.0 268.7 L410.0 273.0 L407.5 275.0 L409.5 280.0 L412.0 285.0 L413.8 290.5 L390.1 290.5Z" fill="#d0ecba"/>
<path d="M410.1 308.6 L418.7 305.4 L425.2 309.7 L430.6 317.3 L431.7 320.5 L423.0 325.9 L414.4 327.0 L409.0 323.7 L407.9 317.3Z" fill="#f3f9cc"/>
<path d="M409.0 327.0 L414.4 327.0 L420.9 327.0 L420.9 334.5 L417.6 342.0 L417.6 343.2 L410.1 337.8 L407.9 332.4Z" fill="#b2e0b8"/>
<path d="M366.9 348.6 L373.4 347.5 L382.0 349.6 L384.2 356.1 L388.5 358.3 L385.3 362.6 L383.1 369.0 L373.4 369.0 L365.8 369.0 L364.8 362.6 L366.9 356.1Z" fill="#f3f9cc"/>
<path d="M365.8 369.0 L383.1 369.0 L382.0 382.0 L381.0 390.7 L378.8 395.0 L374.5 395.0 L371.2 386.3 L368.0 377.7Z" fill="#f3f9cc"/>
<path d="M390.7 370.1 L397.1 366.9 L404.7 368.0 L404.7 374.5 L399.3 378.8 L392.8 375.5Z" fill="#f3f9cc"/>
<path d="M378.8 395.0 L381.0 388.5 L386.3 386.3 L392.8 383.1 L399.3 381.0 L402.5 384.2 L403.6 390.7 L401.4 397.1 L397.1 401.4 L390.7 405.8 L382.0 406.8 L376.6 406.8 L374.5 399.3Z" fill="#a3d9b4"/>
<path d="M394.0 393.5 L396.5 393.0 L397.0 395.5 L394.5 396.0Z" fill="#dddddd"/>
<path d="M403.5 260.0 L407.3 259.3 L406.8 260.9 L404.0 261.3Z" fill="#dddddd"/>
<path d="M429.5 371.2 L434.9 362.6 L438.1 359.4 L439.9 362.6 L439.2 369.0 L436.0 377.7 L432.7 386.3 L429.5 385.3 L427.3 379.9Z" fill="#dddddd"/>
<path d="M504.4 228.8 L511.6 223.4 L514.4 222.4 L517.1 227.8 L521.6 233.2 L528.8 237.7 L534.2 240.4 L541.4 242.2 L548.6 242.2 L554.0 240.4 L559.4 236.8 L566.6 233.2 L572.0 230.5 L574.7 228.7 L571.1 226.9 L570.2 222.4 L575.6 217.0 L577.4 211.6 L581.0 209.8 L586.4 209.8 L590.0 215.2 L593.6 220.6 L597.2 224.2 L604.4 225.1 L606.2 227.8 L602.6 233.2 L599.9 236.8 L598.1 241.3 L595.4 244.0 L591.8 245.8 L588.2 247.6 L584.6 248.5 L579.2 247.6 L575.6 249.4 L572.9 252.1 L575.6 253.9 L579.2 254.8 L579.2 257.5 L577.0 259.5 L578.8 263.9 L581.0 265.6 L582.8 269.2 L581.9 274.6 L579.2 280.0 L575.6 285.4 L572.0 289.0 L567.0 288.6 L561.0 291.6 L557.1 292.5 L553.1 290.6 L549.2 290.0 L545.0 291.0 L540.0 292.0 L535.0 291.0 L530.0 285.0 L525.0 282.0 L518.0 281.0 L510.0 280.0 L500.0 275.0 L494.0 268.0 L490.0 263.0 L488.0 259.0 L486.4 254.0 L484.6 250.4 L488.2 245.0 L495.4 242.3 L500.8 236.0Z" fill="#b2e0b8"/>
<path d="M555.0 294.5 L558.5 294.0 L559.0 297.0 L556.0 297.5Z" fill="#b2e0b8"/>
<path d="M583.0 280.0 L585.0 279.5 L585.5 284.0 L583.5 285.0Z" fill="#b2e0b8"/>
<path d="M514.4 222.4 L521.6 219.7 L528.8 218.8 L533.3 215.2 L537.8 215.2 L545.0 218.8 L552.2 220.6 L559.4 221.5 L566.6 221.5 L570.2 222.4 L571.1 226.9 L574.7 228.7 L572.0 230.5 L566.6 233.2 L559.4 236.8 L554.0 240.4 L548.6 242.2 L541.4 242.2 L534.2 240.4 L528.8 237.7 L521.6 233.2 L517.1 227.8Z" fill="#dddddd"/>
<path d="M584.6 248.5 L588.2 247.6 L591.8 245.8 L595.4 244.0 L597.2 244.0 L596.3 247.6 L595.4 252.1 L591.0 253.5 L588.2 253.0 L586.4 250.5Z" fill="#dddddd"/>
<path d="M588.5 252.5 L591.0 253.0 L596.0 251.5 L596.7 256.0 L596.0 260.5 L593.6 262.4 L590.0 262.0 L589.0 257.5Z" fill="#b2e0b8"/>
<path d="M616.0 242.1 L616.9 241.2 L619.6 243.9 L620.5 248.4 L619.6 252.0 L618.7 256.5 L616.9 259.2 L614.2 261.0 L611.5 262.4 L608.8 263.7 L605.0 265.0 L601.6 266.4 L599.5 268.0 L598.0 270.2 L596.2 269.5 L596.0 266.5 L598.9 263.7 L601.6 261.9 L605.2 260.1 L608.8 259.2 L610.6 256.5 L613.3 254.7 L615.6 252.0 L616.0 248.4 L616.5 244.8Z" fill="#b2e0b8"/>
<path d="M620.5 234.0 L623.2 236.7 L626.8 237.2 L627.7 239.4 L626.0 241.2 L624.1 243.0 L622.3 242.6 L620.1 241.2 L619.6 238.5Z" fill="#b2e0b8"/>
<path d="M487.8 262.9 L493.7 261.9 L495.7 267.8 L499.7 271.8 L505.6 275.7 L511.6 278.7 L517.5 279.7 L523.4 277.7 L527.4 275.7 L531.3 277.7 L529.4 281.7 L525.4 284.6 L523.4 287.6 L520.5 283.6 L516.5 282.7 L514.5 287.6 L509.6 292.5 L504.6 297.5 L500.7 301.5 L497.7 307.4 L495.7 313.3 L493.4 318.3 L490.8 313.3 L488.8 305.4 L486.8 297.5 L484.8 291.6 L479.9 290.6 L477.9 285.6 L481.9 283.6 L485.8 279.7 L484.8 273.7 L486.8 267.8Z" fill="#22348c"/>
<path d="M499.7 271.8 L505.0 272.3 L511.0 274.8 L516.0 276.8 L517.5 279.7 L511.6 278.7 L505.6 275.7Z" fill="#dddddd"/>
<path d="M517.5 277.0 L521.0 276.5 L523.0 277.7 L520.0 279.0 L517.5 279.5Z" fill="#dddddd"/>
<path d="M516.5 282.7 L520.5 283.6 L523.4 287.6 L521.0 290.5 L517.5 289.5 L515.5 286.0Z" fill="#f3f9cc"/>
<path d="M498.7 315.3 L500.7 317.3 L501.7 321.2 L499.7 323.2 L497.7 320.3Z" fill="#f3f9cc"/>
<path d="M527.4 275.7 L531.3 277.7 L533.3 283.6 L535.3 289.6 L537.3 293.5 L533.3 297.5 L535.3 303.4 L533.3 305.4 L529.4 301.5 L526.4 295.5 L524.4 289.6 L523.4 287.6 L525.4 284.6 L529.4 281.7Z" fill="#f3f9cc"/>
<path d="M535.3 293.5 L539.0 289.5 L541.2 291.6 L546.2 294.5 L548.2 301.5 L545.2 305.4 L542.2 309.4 L539.3 313.3 L541.2 321.2 L543.2 327.2 L540.3 329.2 L537.3 323.2 L535.3 315.3 L533.3 307.4 L535.3 303.4 L533.3 297.5Z" fill="#b2e0b8"/>
<path d="M539.0 289.5 L543.0 288.0 L547.0 291.0 L551.0 296.0 L553.0 301.0 L549.0 302.0 L546.2 294.5 L541.2 291.6Z" fill="#dddddd"/>
<path d="M543.0 288.0 L545.2 287.6 L549.2 288.6 L553.1 290.6 L555.0 293.0 L552.0 297.0 L554.0 302.0 L556.0 307.0 L555.0 312.0 L550.0 316.0 L547.0 314.0 L551.0 310.0 L552.0 305.0 L553.0 301.0 L551.0 296.0 L547.0 291.0Z" fill="#b2e0b8"/>
<path d="M544.5 303.0 L549.0 302.0 L552.0 305.0 L551.0 310.0 L547.0 311.0 L544.5 308.0Z" fill="#f3f9cc"/>
<path d="M540.3 329.2 L543.2 327.2 L546.0 331.0 L548.0 337.0 L545.0 338.0 L542.0 334.0Z" fill="#b2e0b8"/>
<path d="M529.4 324.2 L533.3 325.2 L539.3 329.2 L545.2 335.1 L549.2 341.0 L551.1 347.0 L548.2 348.0 L543.2 344.0 L538.3 338.1 L533.3 331.1Z" fill="#b2e0b8"/>
<path d="M549.2 347.0 L557.1 349.0 L565.0 350.0 L569.0 352.0 L563.0 352.5 L555.1 351.0 L550.2 349.0Z" fill="#b2e0b8"/>
<path d="M556.5 333.0 L563.0 328.6 L569.4 324.3 L572.7 322.2 L574.8 328.6 L571.6 335.1 L568.3 341.6 L563.0 342.7 L557.6 339.4Z" fill="#b2e0b8"/>
<path d="M577.0 334.0 L582.0 333.0 L587.0 334.0 L583.0 337.0 L586.0 341.0 L582.0 340.0 L580.0 345.0 L578.0 341.0Z" fill="#b2e0b8"/>
<path d="M578.0 297.0 L582.0 298.0 L582.0 305.0 L580.0 310.0 L577.0 306.0Z" fill="#b2e0b8"/>
<path d="M580.0 310.5 L586.0 311.0 L588.0 314.5 L583.0 314.0Z" fill="#b2e0b8"/>
<path d="M582.0 315.5 L589.0 314.5 L590.0 321.0 L585.0 323.0 L582.0 319.0Z" fill="#b2e0b8"/>
<path d="M570.0 352.5 L578.0 352.5 L578.0 354.0 L570.0 354.0Z" fill="#b2e0b8"/>
<path d="M582.0 353.5 L592.0 352.0 L592.0 354.0 L583.0 355.5Z" fill="#b2e0b8"/>
<path d="M590.0 338.0 L593.0 336.0 L594.0 342.0 L591.0 342.0Z" fill="#b2e0b8"/>
<path d="M599.6 336.2 L606.1 338.3 L612.6 338.3 L619.1 340.5 L619.1 352.4 L614.8 351.3 L611.5 345.9 L606.1 341.6 L600.7 340.5Z" fill="#b2e0b8"/>
<path d="M619.1 340.5 L625.5 342.7 L632.0 347.0 L635.3 351.3 L637.4 355.6 L633.1 354.5 L627.7 351.3 L622.3 352.4 L619.1 352.4Z" fill="#dddddd"/>
<path d="M638.5 340.2 L640.5 340.5 L642.8 342.5 L641.5 344.8 L639.5 345.2 L641.0 343.0 L639.5 341.5Z" fill="#dddddd"/>
<path d="M645.0 345.0 L652.0 349.0 L651.0 350.5 L644.0 346.5Z" fill="#dddddd"/>
<path d="M656.0 352.0 L660.0 355.0 L659.0 356.0 L655.0 353.0Z" fill="#dddddd"/>
<path d="M669.0 364.0 L670.0 364.5 L671.2 367.6 L670.3 367.8Z" fill="#dddddd"/>
<path d="M690.0 368.5 L693.0 367.5 L696.0 367.0 L694.0 369.0 L692.5 371.5 L690.3 371.0Z" fill="#dddddd"/>
<path d="M566.1 380.6 L569.2 377.5 L575.3 376.0 L578.0 373.0 L581.4 371.4 L584.4 368.3 L587.5 365.3 L592.1 363.8 L596.7 361.5 L600.5 359.2 L604.3 359.9 L608.9 359.2 L608.9 363.8 L612.0 367.6 L616.5 369.9 L618.8 366.8 L620.4 360.7 L621.9 356.9 L623.4 360.7 L625.7 365.3 L627.2 371.4 L631.8 379.0 L636.4 382.1 L639.5 385.1 L642.5 389.7 L643.3 394.3 L642.5 400.4 L640.2 406.5 L636.4 411.1 L633.4 414.9 L630.3 416.5 L625.7 415.7 L621.9 414.2 L618.1 411.9 L615.0 408.8 L612.7 406.5 L610.4 405.8 L608.9 402.0 L604.3 400.4 L598.2 398.9 L592.1 400.4 L586.0 402.7 L581.4 404.2 L575.3 406.5 L570.7 407.3 L569.2 403.5 L568.4 395.8 L566.9 389.7 L565.8 385.1Z" fill="#5ab1c4"/>
<path d="M627.2 424.1 L631.8 424.1 L631.1 427.2 L629.5 429.5 L628.0 427.2Z" fill="#5ab1c4"/>
<path d="M681.5 407.3 L684.3 409.7 L685.9 413.0 L688.3 414.6 L692.8 415.4 L692.4 417.8 L690.0 420.2 L688.3 423.5 L686.7 425.1 L685.9 422.7 L683.9 419.4 L685.1 417.4 L685.1 413.8 L682.7 409.7Z" fill="#d5eeb4"/>
<path d="M681.5 423.5 L684.3 424.3 L682.7 427.5 L681.0 430.8 L678.6 434.0 L676.2 437.2 L673.8 438.9 L670.5 438.5 L669.3 435.6 L672.1 432.4 L675.4 430.0 L678.6 426.7Z" fill="#d5eeb4"/>
<path d="M664.0 374.8 L665.5 375.0 L669.7 379.5 L669.0 380.6 L667.0 379.0Z" fill="#dddddd"/>
<path class="b" d="M307.2 289.4 L318.1 289.4 L318.1 278.6 L323.0 277.3" fill="none"/>
<path class="b" d="M318.1 278.6 L329.0 278.6 L329.0 284.0 L329.0 305.8" fill="none"/>
<path class="b" d="M329.0 278.6 L343.2 291.7 L348.9 295.3" fill="none"/>
<path class="b" d="M329.0 305.8 L336.3 309.4 L345.3 309.4 L347.5 308.9" fill="none"/>
<path class="b" d="M310.9 307.6 L318.1 307.6 L323.6 313.0 L329.0 305.8" fill="none"/>
<path class="b" d="M334.4 311.0 L334.4 324.5" fill="none"/>
<path class="b" d="M340.8 310.0 L340.8 324.5" fill="none"/>
<path class="b" d="M344.4 309.4 L344.4 324.0" fill="none"/>
<path class="b" d="M323.6 313.0 L326.0 320.0 L321.6 323.3" fill="none"/>
<path class="b" d="M347.5 308.9 L348.0 314.8 L350.8 322.1 L353.2 324.7" fill="none"/>
<path class="b" d="M367.6 307.5 L368.9 309.4 L367.0 318.4 L359.8 323.9 L357.6 327.6" fill="none"/>
<path class="b" d="M361.9 287.3 L370.7 288.5 L388.8 290.3" fill="none"/>
<path class="b" d="M370.5 296.0 L370.7 307.6 L372.5 314.8 L370.7 321.8" fill="none"/>
<path class="b" d="M388.8 290.3 L388.8 302.1 L387.0 309.4 L385.2 314.8" fill="none"/>
<path class="b" d="M372.5 314.8 L385.2 314.8 L390.6 318.4 L387.0 323.9" fill="none"/>
<path class="b" d="M387.0 309.4 L401.5 311.2 L407.0 309.4 L410.1 308.6" fill="none"/>
<path class="b" d="M370.7 321.8 L384.6 319.8 L396.5 321.8 L404.4 319.8 L409.0 323.7" fill="none"/>
<path class="b" d="M356.9 311.9 L360.8 321.8 L356.9 329.7" fill="none"/>
<path class="b" d="M358.3 328.0 L364.8 329.7 L366.8 339.6 L360.8 341.6" fill="none"/>
<path class="b" d="M372.7 325.7 L384.6 323.8 L396.5 327.7 L399.5 333.7 L398.5 345.5 L397.5 353.5 L398.5 359.4 L392.5 359.4 L386.6 357.4 L384.6 349.5 L382.0 349.6" fill="none"/>
<path class="b" d="M366.9 348.6 L364.8 344.6 L370.7 342.6 L372.7 335.6 L372.7 325.7" fill="none"/>
<path class="b" d="M399.5 333.7 L407.9 332.4" fill="none"/>
<path class="b" d="M398.5 345.5 L400.4 339.6 L410.3 338.6 L417.6 343.2" fill="none"/>
<path class="b" d="M397.5 353.5 L404.4 355.4 L408.4 357.4 L416.3 357.4 L419.3 351.5" fill="none"/>
<path class="b" d="M388.5 358.3 L384.6 365.3 L388.6 369.3 L394.5 369.3 L402.4 367.3 L404.4 363.4 L398.5 359.4" fill="none"/>
<path class="b" d="M404.4 363.4 L406.4 367.3 L404.4 371.3 L404.7 374.5" fill="none"/>
<path class="b" d="M404.7 368.0 L408.4 373.3 L406.4 379.2 L404.4 385.1 L402.5 384.2" fill="none"/>
<path class="b" d="M406.4 357.4 L408.0 362.0 L407.0 366.0" fill="none"/>
<path class="b" d="M383.1 369.0 L388.6 369.3 L392.8 375.5 L396.5 377.2 L392.5 381.2 L386.3 386.3 L381.0 388.5" fill="none"/>
<path class="b" d="M423.0 325.9 L431.7 320.5 L438.1 311.9" fill="none"/>
<path class="b" d="M420.9 327.0 L423.0 325.9" fill="none"/>
</g>
</svg>
<svg class="title" width="800" height="44" viewBox="0 0 800 44"><text x="8" y="30.8" font-family="Oswald, 'DejaVu Sans Condensed', 'Liberation Sans', sans-serif" font-size="28.5" fill="#111" textLength="479.67" lengthAdjust="spacingAndGlyphs">Average Books Read Per Year by Country 2025</text></svg>
<div class="btn" style="top:191px">
<svg width="19" height="19" viewBox="0 0 24 24" fill="none" stroke="#3a3f4a" stroke-width="1.6" stroke-linecap="round" stroke-linejoin="round"><circle cx="11" cy="11" r="8"/><path d="M21 21l-4.35-4.35"/><path d="M11 8v6M8 11h6"/></svg>
</div>
<div class="btn" style="top:243px;background:#f3f4f6">
<svg width="19" height="19" viewBox="0 0 24 24" fill="none" stroke="#3a3f4a" stroke-width="1.6" stroke-linecap="round" stroke-linejoin="round"><circle cx="11" cy="11" r="8"/><path d="M21 21l-4.35-4.35"/><path d="M8 11h6"/></svg>
</div>
<div class="btn" style="top:295px">
<svg width="19" height="19" viewBox="0 0 24 24" fill="none" stroke="#3a3f4a" stroke-width="1.6" stroke-linecap="round" stroke-linejoin="round"><path d="M21 21l-6-6M21 21v-4.8M21 21h-4.8"/><path d="M3 16.2V21M3 21h4.8M3 21l6-6"/><path d="M21 7.8V3M21 3h-4.8M21 3l-6 6"/><path d="M3 7.8V3M3 3h4.8M3 3l6 6"/></svg>
</div>
<div class="legend-title">Books Read Annually</div>
<div class="dot" style="left:188.5px;background:#ffffd9"></div><div class="lt" style="left:208.1px">2</div>
<div class="dot" style="left:230.0px;background:#edf8b1"></div><div class="lt" style="left:249.5px">4</div>
<div class="dot" style="left:273.2px;background:#c7e9b4"></div><div class="lt" style="left:292.5px">6</div>
<div class="dot" style="left:316.0px;background:#7fcdbb"></div><div class="lt" style="left:334.9px">8</div>
<div class="dot" style="left:358.7px;background:#41b6c4"></div><div class="lt" style="left:377.5px">10</div>
<div class="dot" style="left:406.8px;background:#1d91c0"></div><div class="lt" style="left:426.5px">12</div>
<div class="dot" style="left:455.0px;background:#225ea8"></div><div class="lt" style="left:474.0px">14</div>
<div class="dot" style="left:503.0px;background:#253494"></div><div class="lt" style="left:521.5px">16</div>
<div class="dot" style="left:551.3px;background:#081d58"></div><div class="lt" style="left:570.0px">18</div>
</body></html>
